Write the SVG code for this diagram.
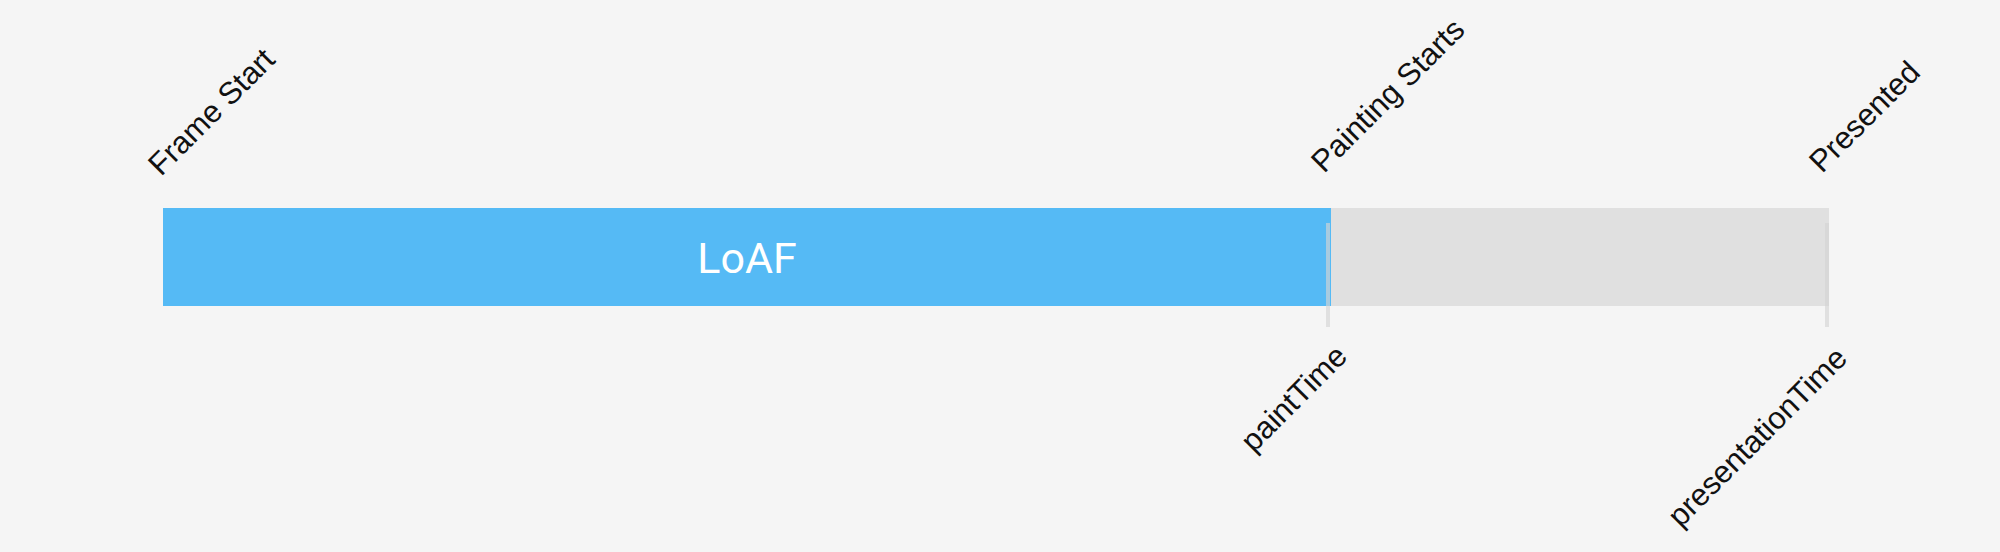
<svg xmlns="http://www.w3.org/2000/svg" width="2000" height="552" viewBox="0 0 2000 552">
  <style>
    .lbl { font-family: "Liberation Sans", Arial, sans-serif; font-size: 31px; fill: #111111; }
    .bar-text { font-family: Roboto, "Liberation Sans", sans-serif; font-size: 43px; fill: #ffffff; }
    .tick { fill: #d4d4d4; fill-opacity: 0.65; }
  </style>
  <rect x="0" y="0" width="2000" height="552" fill="#f5f5f5"/>
  <g id="loaf">
    <rect x="163" y="208" width="1168" height="98" fill="#55baf5"/>
    <text class="bar-text" x="747" y="273" text-anchor="middle">LoAF</text>
  </g>
  <g id="rendering">
    <rect x="1331" y="208" width="498" height="98" fill="#e0e0e0"/>
  </g>
  <g id="connectors">
    <rect class="tick" x="1326" y="223" width="4" height="104"/>
    <rect class="tick" x="1825" y="223" width="4" height="104"/>
  </g>
  <g id="label-frame-start">
    <text class="lbl" transform="translate(161,177) rotate(-45)">Frame Start</text>
  </g>
  <g id="label-painting-starts">
    <text class="lbl" transform="translate(1324,174) rotate(-45)">Painting Starts</text>
  </g>
  <g id="label-presented">
    <text class="lbl" transform="translate(1822,174) rotate(-45)">Presented</text>
  </g>
  <g id="label-paint-time">
    <text class="lbl" text-anchor="end" transform="translate(1349,358) rotate(-45)">paintTime</text>
  </g>
  <g id="label-presentation-time">
    <text class="lbl" text-anchor="end" transform="translate(1849,360) rotate(-45)">presentationTime</text>
  </g>
</svg>
